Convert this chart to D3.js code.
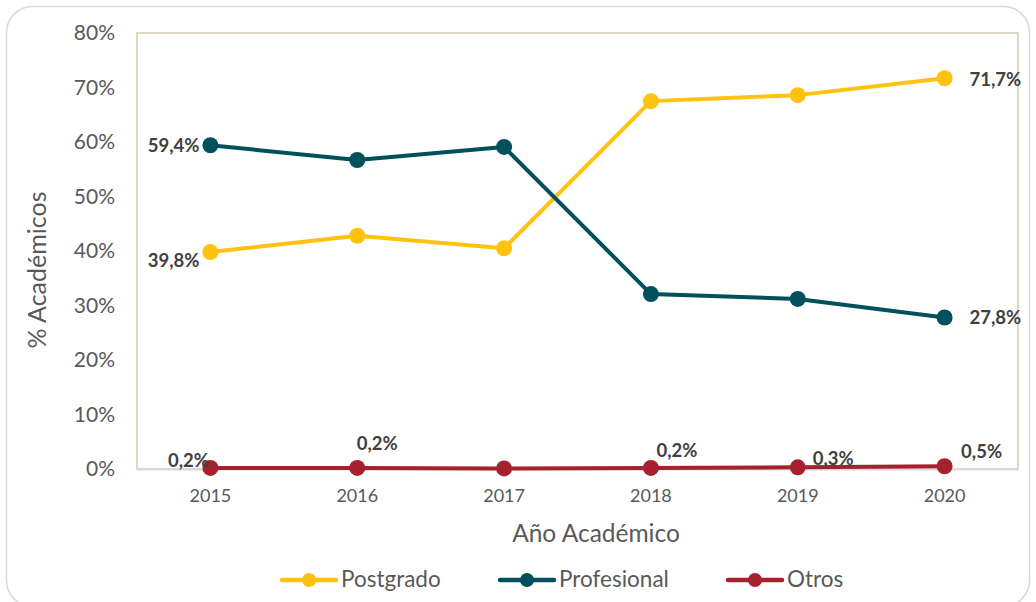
<!DOCTYPE html>
<html>
<head>
<meta charset="utf-8">
<script src="https://cdn.jsdelivr.net/npm/d3@7"></script>
<style>
  html, body { margin: 0; padding: 0; background: #fff; }
  svg { display: block; font-family: Lato, "Open Sans", sans-serif; }
</style>
</head>
<body>
<svg id="chart" width="1036" height="602"></svg>
<script>
// Academic staff share by degree type, per academic year
const years = ["2015", "2016", "2017", "2018", "2019", "2020"];
const postgrado = [39.8, 42.8, 40.5, 67.5, 68.6, 71.7];
const profesional = [59.4, 56.7, 59.1, 32.1, 31.2, 27.8];
const otros = [0.2, 0.2, 0.1, 0.2, 0.3, 0.5];
const yTicks = [0, 10, 20, 30, 40, 50, 60, 70, 80];

// Label placement: offset from the point, text anchor
const series = [
  { name: "Postgrado", values: postgrado, color: "#FFC20E",
    labels: [{ i: 0, dx: -11, dy: 15, anchor: "end" }, { i: 5, dx: 25, dy: 8, anchor: "start" }] },
  { name: "Profesional", values: profesional, color: "#01505B",
    labels: [{ i: 0, dx: -11, dy: 7, anchor: "end" }, { i: 5, dx: 25, dy: 7, anchor: "start" }] },
  { name: "Otros", values: otros, color: "#A5212D",
    labels: [{ i: 0, dx: -22, dy: -1, anchor: "middle" }, { i: 1, dx: 20, dy: -18, anchor: "middle" },
             { i: 3, dx: 26, dy: -11, anchor: "middle" }, { i: 4, dx: 15, dy: -2, anchor: "start" },
             { i: 5, dx: 37, dy: -8, anchor: "middle" }] }
];

const svg = d3.select("#chart");
const margin = { left: 137, right: 1018, top: 33, bottom: 469 };

// Card background
svg.append("rect")
  .attr("x", 6.5).attr("y", 6.5).attr("width", 1023).attr("height", 600)
  .attr("rx", 26).attr("fill", "#fff").attr("stroke", "#d9d9d9").attr("stroke-width", 1.5);

const x = d3.scaleBand().domain(years).range([margin.left, margin.right]);
const y = d3.scaleLinear().domain([0, 80]).range([margin.bottom, margin.top]);
const cx = d => x(d) + x.bandwidth() / 2;

// Plot area frame
svg.append("rect")
  .attr("x", margin.left).attr("y", margin.top)
  .attr("width", margin.right - margin.left).attr("height", margin.bottom - margin.top)
  .attr("fill", "none").attr("stroke", "#DDD9C3").attr("stroke-width", 2);

// Y axis
const yAxis = svg.append("g")
  .attr("transform", `translate(${margin.left},0)`)
  .call(d3.axisLeft(y).tickValues(yTicks).tickFormat(d => d + "%").tickSize(0).tickPadding(22));
yAxis.select(".domain").remove();
yAxis.selectAll("text").attr("font-size", 21).attr("fill", "#595959")
  .attr("font-family", "Lato, 'Open Sans', sans-serif");

// X axis
const xAxis = svg.append("g")
  .attr("transform", `translate(0,${margin.bottom})`)
  .call(d3.axisBottom(x).tickSize(0).tickPadding(20));
xAxis.select(".domain").attr("stroke", "#d9d9d9").attr("stroke-width", 2);
xAxis.selectAll("text").attr("font-size", 18).attr("fill", "#595959")
  .attr("font-family", "Lato, 'Open Sans', sans-serif");

// Axis titles
svg.append("text")
  .attr("transform", "translate(46,270) rotate(-90)")
  .attr("text-anchor", "middle").attr("font-size", 25).attr("fill", "#595959")
  .text("% Académicos");
svg.append("text")
  .attr("x", 596).attr("y", 542)
  .attr("text-anchor", "middle").attr("font-size", 24.5).attr("fill", "#595959")
  .text("Año Académico");

const line = d3.line().x((d, i) => cx(years[i])).y(d => y(d));

const fmt = v => v.toFixed(1).replace(".", ",") + "%";

series.forEach(s => {
  const g = svg.append("g");
  g.append("path").datum(s.values)
    .attr("d", line).attr("fill", "none")
    .attr("stroke", s.color).attr("stroke-width", 4).attr("stroke-linejoin", "round");
  g.selectAll("circle").data(s.values).join("circle")
    .attr("cx", (d, i) => cx(years[i])).attr("cy", d => y(d))
    .attr("r", 8).attr("fill", s.color);

  s.labels.forEach(l => {
    const v = s.values[l.i];
    g.append("text")
      .attr("x", cx(years[l.i]) + l.dx).attr("y", y(v) + l.dy)
      .attr("text-anchor", l.anchor).attr("font-size", 18.5).attr("font-weight", 700)
      .attr("fill", "#404040").text(fmt(v));
  });
});

// Legend
const legendX = [282, 500, 728];
const legend = svg.append("g");
series.forEach((s, i) => {
  const lx = legendX[i], ly = 580;
  legend.append("line").attr("x1", lx).attr("x2", lx + 54).attr("y1", ly).attr("y2", ly)
    .attr("stroke", s.color).attr("stroke-width", 4.5).attr("stroke-linecap", "round");
  legend.append("circle").attr("cx", lx + 27).attr("cy", ly).attr("r", 7).attr("fill", s.color);
  legend.append("text").attr("x", lx + 59).attr("y", ly + 7)
    .attr("font-size", 22.5).attr("fill", "#595959").text(s.name);
});
</script>
</body>
</html>
